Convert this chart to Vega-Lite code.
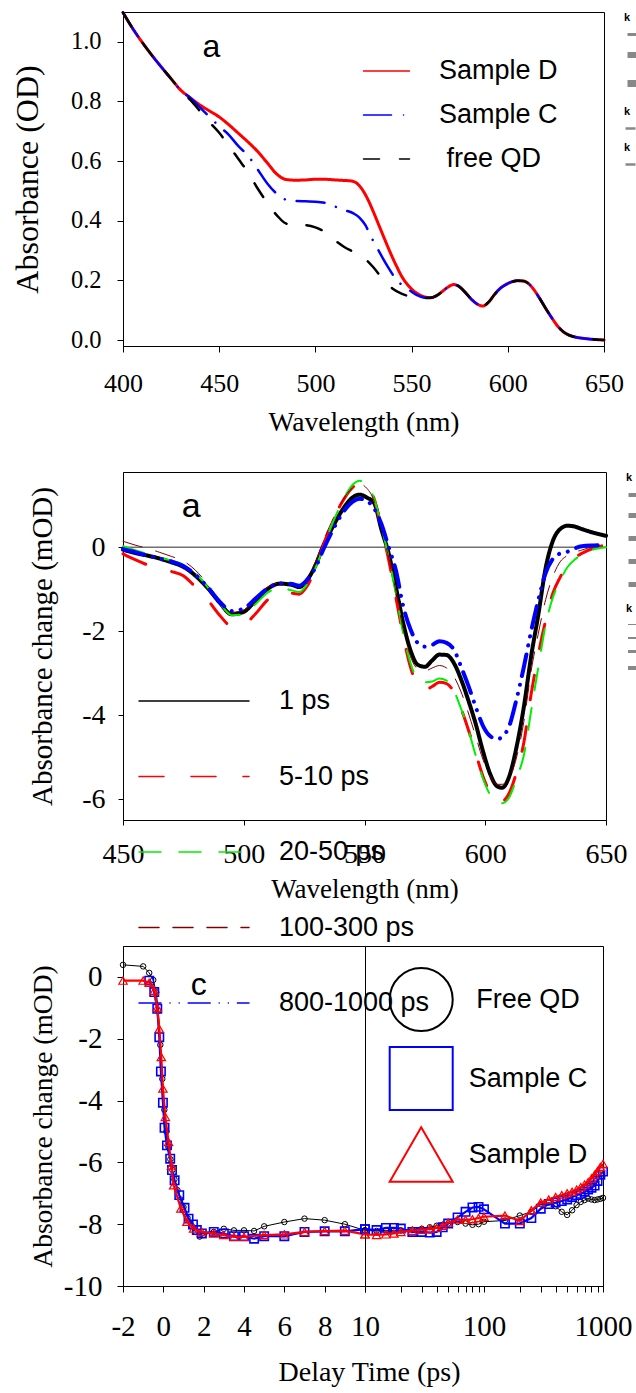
{
"$schema": "https://vega.github.io/schema/vega-lite/v6.json",
"padding": {"left": 10, "top": 10, "right": 0, "bottom": 0},
"background": "white",
"config": {
 "view": {"stroke": "#000000", "strokeWidth": 1},
 "axis": {"grid": false, "domainColor": "#000000", "tickColor": "#000000", "labelColor": "#000000", "titleColor": "#000000", "labelFont": "Liberation Serif", "titleFont": "Liberation Serif", "titleFontWeight": "normal", "labelFlush": false, "labelOverlap": false},
 "legend": {"labelFont": "Liberation Sans", "labelColor": "#000000"}
},
"datasets": {
 "abs": [
  {"k":"Sample D","wl":400,"a":1.098},{"k":"Sample D","wl":405,"a":1.045},{"k":"Sample D","wl":410,"a":0.998},{"k":"Sample D","wl":415,"a":0.955},{"k":"Sample D","wl":420,"a":0.915},{"k":"Sample D","wl":425,"a":0.876},{"k":"Sample D","wl":430,"a":0.838},{"k":"Sample D","wl":435,"a":0.812},{"k":"Sample D","wl":440,"a":0.788},{"k":"Sample D","wl":445,"a":0.768},{"k":"Sample D","wl":450,"a":0.748},{"k":"Sample D","wl":455,"a":0.722},{"k":"Sample D","wl":460,"a":0.693},{"k":"Sample D","wl":465,"a":0.664},{"k":"Sample D","wl":470,"a":0.632},{"k":"Sample D","wl":475,"a":0.594},{"k":"Sample D","wl":480,"a":0.556},{"k":"Sample D","wl":485,"a":0.538},{"k":"Sample D","wl":490,"a":0.536},{"k":"Sample D","wl":495,"a":0.537},{"k":"Sample D","wl":500,"a":0.539},{"k":"Sample D","wl":505,"a":0.539},{"k":"Sample D","wl":510,"a":0.537},{"k":"Sample D","wl":515,"a":0.535},{"k":"Sample D","wl":518,"a":0.534},{"k":"Sample D","wl":521,"a":0.528},{"k":"Sample D","wl":524,"a":0.508},{"k":"Sample D","wl":527,"a":0.475},{"k":"Sample D","wl":530,"a":0.432},{"k":"Sample D","wl":533,"a":0.385},{"k":"Sample D","wl":536,"a":0.338},{"k":"Sample D","wl":539,"a":0.292},{"k":"Sample D","wl":542,"a":0.25},{"k":"Sample D","wl":545,"a":0.212},{"k":"Sample D","wl":548,"a":0.185},{"k":"Sample D","wl":551,"a":0.165},{"k":"Sample D","wl":554,"a":0.152},{"k":"Sample D","wl":557,"a":0.144},{"k":"Sample D","wl":560,"a":0.142},{"k":"Sample D","wl":563,"a":0.149},{"k":"Sample D","wl":566,"a":0.163},{"k":"Sample D","wl":569,"a":0.178},{"k":"Sample D","wl":572,"a":0.186},{"k":"Sample D","wl":575,"a":0.178},{"k":"Sample D","wl":578,"a":0.159},{"k":"Sample D","wl":581,"a":0.137},{"k":"Sample D","wl":584,"a":0.121},{"k":"Sample D","wl":587,"a":0.114},{"k":"Sample D","wl":590,"a":0.127},{"k":"Sample D","wl":593,"a":0.152},{"k":"Sample D","wl":596,"a":0.173},{"k":"Sample D","wl":599,"a":0.186},{"k":"Sample D","wl":602,"a":0.195},{"k":"Sample D","wl":605,"a":0.199},{"k":"Sample D","wl":608,"a":0.198},{"k":"Sample D","wl":611,"a":0.188},{"k":"Sample D","wl":614,"a":0.165},{"k":"Sample D","wl":617,"a":0.135},{"k":"Sample D","wl":620,"a":0.103},{"k":"Sample D","wl":623,"a":0.073},{"k":"Sample D","wl":626,"a":0.046},{"k":"Sample D","wl":629,"a":0.027},{"k":"Sample D","wl":632,"a":0.016},{"k":"Sample D","wl":635,"a":0.01},{"k":"Sample D","wl":640,"a":0.005},{"k":"Sample D","wl":645,"a":0.002},{"k":"Sample D","wl":650,"a":0.0},
  {"k":"Sample C","wl":400,"a":1.098},{"k":"Sample C","wl":405,"a":1.045},{"k":"Sample C","wl":410,"a":0.998},{"k":"Sample C","wl":415,"a":0.955},{"k":"Sample C","wl":420,"a":0.915},{"k":"Sample C","wl":425,"a":0.876},{"k":"Sample C","wl":430,"a":0.838},{"k":"Sample C","wl":435,"a":0.812},{"k":"Sample C","wl":440,"a":0.78},{"k":"Sample C","wl":445,"a":0.748},{"k":"Sample C","wl":450,"a":0.717},{"k":"Sample C","wl":455,"a":0.688},{"k":"Sample C","wl":460,"a":0.65},{"k":"Sample C","wl":465,"a":0.618},{"k":"Sample C","wl":470,"a":0.572},{"k":"Sample C","wl":475,"a":0.525},{"k":"Sample C","wl":480,"a":0.49},{"k":"Sample C","wl":485,"a":0.47},{"k":"Sample C","wl":490,"a":0.466},{"k":"Sample C","wl":495,"a":0.465},{"k":"Sample C","wl":500,"a":0.464},{"k":"Sample C","wl":505,"a":0.46},{"k":"Sample C","wl":510,"a":0.448},{"k":"Sample C","wl":515,"a":0.436},{"k":"Sample C","wl":520,"a":0.424},{"k":"Sample C","wl":523,"a":0.41},{"k":"Sample C","wl":526,"a":0.385},{"k":"Sample C","wl":529,"a":0.345},{"k":"Sample C","wl":532,"a":0.31},{"k":"Sample C","wl":535,"a":0.275},{"k":"Sample C","wl":538,"a":0.242},{"k":"Sample C","wl":541,"a":0.212},{"k":"Sample C","wl":544,"a":0.19},{"k":"Sample C","wl":547,"a":0.176},{"k":"Sample C","wl":550,"a":0.162},{"k":"Sample C","wl":553,"a":0.15},{"k":"Sample C","wl":556,"a":0.143},{"k":"Sample C","wl":560,"a":0.142},{"k":"Sample C","wl":563,"a":0.149},{"k":"Sample C","wl":566,"a":0.163},{"k":"Sample C","wl":569,"a":0.178},{"k":"Sample C","wl":572,"a":0.186},{"k":"Sample C","wl":575,"a":0.178},{"k":"Sample C","wl":578,"a":0.159},{"k":"Sample C","wl":581,"a":0.137},{"k":"Sample C","wl":584,"a":0.121},{"k":"Sample C","wl":587,"a":0.114},{"k":"Sample C","wl":590,"a":0.127},{"k":"Sample C","wl":593,"a":0.152},{"k":"Sample C","wl":596,"a":0.173},{"k":"Sample C","wl":599,"a":0.186},{"k":"Sample C","wl":602,"a":0.195},{"k":"Sample C","wl":605,"a":0.199},{"k":"Sample C","wl":608,"a":0.198},{"k":"Sample C","wl":611,"a":0.188},{"k":"Sample C","wl":614,"a":0.165},{"k":"Sample C","wl":617,"a":0.135},{"k":"Sample C","wl":620,"a":0.103},{"k":"Sample C","wl":623,"a":0.073},{"k":"Sample C","wl":626,"a":0.046},{"k":"Sample C","wl":629,"a":0.027},{"k":"Sample C","wl":632,"a":0.016},{"k":"Sample C","wl":635,"a":0.01},{"k":"Sample C","wl":640,"a":0.005},{"k":"Sample C","wl":645,"a":0.002},{"k":"Sample C","wl":650,"a":0.0},
  {"k":"free QD","wl":400,"a":1.098},{"k":"free QD","wl":405,"a":1.045},{"k":"free QD","wl":410,"a":0.998},{"k":"free QD","wl":415,"a":0.955},{"k":"free QD","wl":420,"a":0.915},{"k":"free QD","wl":425,"a":0.876},{"k":"free QD","wl":430,"a":0.838},{"k":"free QD","wl":435,"a":0.805},{"k":"free QD","wl":440,"a":0.768},{"k":"free QD","wl":445,"a":0.73},{"k":"free QD","wl":450,"a":0.695},{"k":"free QD","wl":455,"a":0.652},{"k":"free QD","wl":460,"a":0.607},{"k":"free QD","wl":465,"a":0.562},{"k":"free QD","wl":470,"a":0.508},{"k":"free QD","wl":475,"a":0.46},{"k":"free QD","wl":480,"a":0.418},{"k":"free QD","wl":485,"a":0.39},{"k":"free QD","wl":490,"a":0.386},{"k":"free QD","wl":495,"a":0.385},{"k":"free QD","wl":500,"a":0.378},{"k":"free QD","wl":505,"a":0.362},{"k":"free QD","wl":510,"a":0.335},{"k":"free QD","wl":515,"a":0.312},{"k":"free QD","wl":520,"a":0.295},{"k":"free QD","wl":525,"a":0.277},{"k":"free QD","wl":530,"a":0.245},{"k":"free QD","wl":535,"a":0.205},{"k":"free QD","wl":540,"a":0.173},{"k":"free QD","wl":545,"a":0.155},{"k":"free QD","wl":550,"a":0.145},{"k":"free QD","wl":555,"a":0.141},{"k":"free QD","wl":560,"a":0.142},{"k":"free QD","wl":563,"a":0.149},{"k":"free QD","wl":566,"a":0.163},{"k":"free QD","wl":569,"a":0.178},{"k":"free QD","wl":572,"a":0.186},{"k":"free QD","wl":575,"a":0.178},{"k":"free QD","wl":578,"a":0.159},{"k":"free QD","wl":581,"a":0.137},{"k":"free QD","wl":584,"a":0.121},{"k":"free QD","wl":587,"a":0.114},{"k":"free QD","wl":590,"a":0.127},{"k":"free QD","wl":593,"a":0.152},{"k":"free QD","wl":596,"a":0.173},{"k":"free QD","wl":599,"a":0.186},{"k":"free QD","wl":602,"a":0.195},{"k":"free QD","wl":605,"a":0.199},{"k":"free QD","wl":608,"a":0.198},{"k":"free QD","wl":611,"a":0.188},{"k":"free QD","wl":614,"a":0.165},{"k":"free QD","wl":617,"a":0.135},{"k":"free QD","wl":620,"a":0.103},{"k":"free QD","wl":623,"a":0.073},{"k":"free QD","wl":626,"a":0.046},{"k":"free QD","wl":629,"a":0.027},{"k":"free QD","wl":632,"a":0.016},{"k":"free QD","wl":635,"a":0.01},{"k":"free QD","wl":640,"a":0.005},{"k":"free QD","wl":645,"a":0.002},{"k":"free QD","wl":650,"a":0.0}
 ],
 "ta": [
  {"k":"1 ps","wl":450,"d":-0.06},{"k":"1 ps","wl":455,"d":-0.14},{"k":"1 ps","wl":460,"d":-0.2},{"k":"1 ps","wl":465,"d":-0.27},{"k":"1 ps","wl":470,"d":-0.36},{"k":"1 ps","wl":475,"d":-0.47},{"k":"1 ps","wl":480,"d":-0.68},{"k":"1 ps","wl":485,"d":-0.97},{"k":"1 ps","wl":490,"d":-1.32},{"k":"1 ps","wl":495,"d":-1.6},{"k":"1 ps","wl":500,"d":-1.54},{"k":"1 ps","wl":505,"d":-1.27},{"k":"1 ps","wl":510,"d":-0.99},{"k":"1 ps","wl":515,"d":-0.87},{"k":"1 ps","wl":520,"d":-0.9},{"k":"1 ps","wl":523,"d":-0.95},{"k":"1 ps","wl":526,"d":-0.8},{"k":"1 ps","wl":530,"d":-0.4},{"k":"1 ps","wl":533,"d":0.04},{"k":"1 ps","wl":537,"d":0.5},{"k":"1 ps","wl":541,"d":0.9},{"k":"1 ps","wl":545,"d":1.18},{"k":"1 ps","wl":548,"d":1.25},{"k":"1 ps","wl":551,"d":1.18},{"k":"1 ps","wl":554,"d":1.05},{"k":"1 ps","wl":557,"d":0.42},{"k":"1 ps","wl":560,"d":-0.15},{"k":"1 ps","wl":563,"d":-0.95},{"k":"1 ps","wl":566,"d":-1.8},{"k":"1 ps","wl":569,"d":-2.45},{"k":"1 ps","wl":572,"d":-2.8},{"k":"1 ps","wl":575,"d":-2.85},{"k":"1 ps","wl":578,"d":-2.7},{"k":"1 ps","wl":581,"d":-2.56},{"k":"1 ps","wl":584,"d":-2.57},{"k":"1 ps","wl":587,"d":-2.76},{"k":"1 ps","wl":590,"d":-3.15},{"k":"1 ps","wl":593,"d":-3.65},{"k":"1 ps","wl":596,"d":-4.2},{"k":"1 ps","wl":599,"d":-4.85},{"k":"1 ps","wl":602,"d":-5.4},{"k":"1 ps","wl":605,"d":-5.7},{"k":"1 ps","wl":607,"d":-5.73},{"k":"1 ps","wl":610,"d":-5.45},{"k":"1 ps","wl":613,"d":-4.75},{"k":"1 ps","wl":616,"d":-3.8},{"k":"1 ps","wl":619,"d":-2.6},{"k":"1 ps","wl":622,"d":-1.6},{"k":"1 ps","wl":625,"d":-0.5},{"k":"1 ps","wl":628,"d":0.15},{"k":"1 ps","wl":631,"d":0.43},{"k":"1 ps","wl":634,"d":0.51},{"k":"1 ps","wl":637,"d":0.49},{"k":"1 ps","wl":640,"d":0.43},{"k":"1 ps","wl":645,"d":0.34},{"k":"1 ps","wl":650,"d":0.27},
  {"k":"5-10 ps","wl":450,"d":-0.16},{"k":"5-10 ps","wl":455,"d":-0.3},{"k":"5-10 ps","wl":460,"d":-0.42},{"k":"5-10 ps","wl":465,"d":-0.52},{"k":"5-10 ps","wl":470,"d":-0.58},{"k":"5-10 ps","wl":475,"d":-0.68},{"k":"5-10 ps","wl":480,"d":-0.95},{"k":"5-10 ps","wl":485,"d":-1.25},{"k":"5-10 ps","wl":490,"d":-1.62},{"k":"5-10 ps","wl":495,"d":-1.88},{"k":"5-10 ps","wl":500,"d":-1.84},{"k":"5-10 ps","wl":505,"d":-1.58},{"k":"5-10 ps","wl":510,"d":-1.25},{"k":"5-10 ps","wl":515,"d":-1.1},{"k":"5-10 ps","wl":520,"d":-1.1},{"k":"5-10 ps","wl":523,"d":-1.12},{"k":"5-10 ps","wl":526,"d":-0.95},{"k":"5-10 ps","wl":530,"d":-0.45},{"k":"5-10 ps","wl":533,"d":0.05},{"k":"5-10 ps","wl":537,"d":0.65},{"k":"5-10 ps","wl":541,"d":1.1},{"k":"5-10 ps","wl":545,"d":1.42},{"k":"5-10 ps","wl":548,"d":1.52},{"k":"5-10 ps","wl":551,"d":1.42},{"k":"5-10 ps","wl":554,"d":1.15},{"k":"5-10 ps","wl":557,"d":0.45},{"k":"5-10 ps","wl":560,"d":-0.3},{"k":"5-10 ps","wl":563,"d":-1.2},{"k":"5-10 ps","wl":566,"d":-2.1},{"k":"5-10 ps","wl":569,"d":-2.85},{"k":"5-10 ps","wl":572,"d":-3.28},{"k":"5-10 ps","wl":575,"d":-3.4},{"k":"5-10 ps","wl":578,"d":-3.32},{"k":"5-10 ps","wl":581,"d":-3.22},{"k":"5-10 ps","wl":584,"d":-3.25},{"k":"5-10 ps","wl":587,"d":-3.45},{"k":"5-10 ps","wl":590,"d":-3.85},{"k":"5-10 ps","wl":593,"d":-4.35},{"k":"5-10 ps","wl":596,"d":-4.9},{"k":"5-10 ps","wl":599,"d":-5.45},{"k":"5-10 ps","wl":602,"d":-5.85},{"k":"5-10 ps","wl":605,"d":-6.05},{"k":"5-10 ps","wl":607,"d":-6.05},{"k":"5-10 ps","wl":610,"d":-5.85},{"k":"5-10 ps","wl":613,"d":-5.35},{"k":"5-10 ps","wl":616,"d":-4.65},{"k":"5-10 ps","wl":619,"d":-3.5},{"k":"5-10 ps","wl":622,"d":-2.55},{"k":"5-10 ps","wl":625,"d":-1.75},{"k":"5-10 ps","wl":628,"d":-1.1},{"k":"5-10 ps","wl":631,"d":-0.72},{"k":"5-10 ps","wl":634,"d":-0.42},{"k":"5-10 ps","wl":637,"d":-0.25},{"k":"5-10 ps","wl":640,"d":-0.15},{"k":"5-10 ps","wl":645,"d":-0.02},{"k":"5-10 ps","wl":650,"d":0.05},
  {"k":"20-50 ps","wl":450,"d":0.02},{"k":"20-50 ps","wl":455,"d":-0.07},{"k":"20-50 ps","wl":460,"d":-0.16},{"k":"20-50 ps","wl":465,"d":-0.25},{"k":"20-50 ps","wl":470,"d":-0.32},{"k":"20-50 ps","wl":475,"d":-0.42},{"k":"20-50 ps","wl":480,"d":-0.62},{"k":"20-50 ps","wl":485,"d":-0.95},{"k":"20-50 ps","wl":490,"d":-1.33},{"k":"20-50 ps","wl":495,"d":-1.62},{"k":"20-50 ps","wl":500,"d":-1.6},{"k":"20-50 ps","wl":505,"d":-1.35},{"k":"20-50 ps","wl":510,"d":-1.08},{"k":"20-50 ps","wl":515,"d":-0.98},{"k":"20-50 ps","wl":520,"d":-1.03},{"k":"20-50 ps","wl":523,"d":-1.07},{"k":"20-50 ps","wl":526,"d":-0.9},{"k":"20-50 ps","wl":530,"d":-0.45},{"k":"20-50 ps","wl":533,"d":0.0},{"k":"20-50 ps","wl":537,"d":0.6},{"k":"20-50 ps","wl":541,"d":1.1},{"k":"20-50 ps","wl":545,"d":1.48},{"k":"20-50 ps","wl":548,"d":1.58},{"k":"20-50 ps","wl":551,"d":1.48},{"k":"20-50 ps","wl":554,"d":1.15},{"k":"20-50 ps","wl":557,"d":0.5},{"k":"20-50 ps","wl":560,"d":-0.25},{"k":"20-50 ps","wl":563,"d":-1.1},{"k":"20-50 ps","wl":566,"d":-2.05},{"k":"20-50 ps","wl":569,"d":-2.75},{"k":"20-50 ps","wl":572,"d":-3.15},{"k":"20-50 ps","wl":575,"d":-3.22},{"k":"20-50 ps","wl":578,"d":-3.2},{"k":"20-50 ps","wl":581,"d":-3.13},{"k":"20-50 ps","wl":584,"d":-3.18},{"k":"20-50 ps","wl":587,"d":-3.42},{"k":"20-50 ps","wl":590,"d":-3.85},{"k":"20-50 ps","wl":593,"d":-4.35},{"k":"20-50 ps","wl":596,"d":-4.95},{"k":"20-50 ps","wl":599,"d":-5.5},{"k":"20-50 ps","wl":602,"d":-5.9},{"k":"20-50 ps","wl":605,"d":-6.08},{"k":"20-50 ps","wl":607,"d":-6.1},{"k":"20-50 ps","wl":610,"d":-5.95},{"k":"20-50 ps","wl":613,"d":-5.5},{"k":"20-50 ps","wl":616,"d":-4.95},{"k":"20-50 ps","wl":619,"d":-3.9},{"k":"20-50 ps","wl":622,"d":-2.85},{"k":"20-50 ps","wl":625,"d":-1.85},{"k":"20-50 ps","wl":628,"d":-1.2},{"k":"20-50 ps","wl":631,"d":-0.8},{"k":"20-50 ps","wl":634,"d":-0.48},{"k":"20-50 ps","wl":637,"d":-0.3},{"k":"20-50 ps","wl":640,"d":-0.18},{"k":"20-50 ps","wl":645,"d":-0.05},{"k":"20-50 ps","wl":650,"d":0.0},
  {"k":"100-300 ps","wl":450,"d":0.14},{"k":"100-300 ps","wl":455,"d":0.05},{"k":"100-300 ps","wl":460,"d":-0.03},{"k":"100-300 ps","wl":465,"d":-0.12},{"k":"100-300 ps","wl":470,"d":-0.22},{"k":"100-300 ps","wl":475,"d":-0.33},{"k":"100-300 ps","wl":480,"d":-0.55},{"k":"100-300 ps","wl":485,"d":-0.88},{"k":"100-300 ps","wl":490,"d":-1.27},{"k":"100-300 ps","wl":495,"d":-1.55},{"k":"100-300 ps","wl":500,"d":-1.5},{"k":"100-300 ps","wl":505,"d":-1.22},{"k":"100-300 ps","wl":510,"d":-0.95},{"k":"100-300 ps","wl":515,"d":-0.85},{"k":"100-300 ps","wl":520,"d":-0.9},{"k":"100-300 ps","wl":523,"d":-0.95},{"k":"100-300 ps","wl":526,"d":-0.76},{"k":"100-300 ps","wl":530,"d":-0.3},{"k":"100-300 ps","wl":533,"d":0.15},{"k":"100-300 ps","wl":537,"d":0.68},{"k":"100-300 ps","wl":541,"d":1.12},{"k":"100-300 ps","wl":545,"d":1.42},{"k":"100-300 ps","wl":548,"d":1.5},{"k":"100-300 ps","wl":551,"d":1.4},{"k":"100-300 ps","wl":554,"d":1.1},{"k":"100-300 ps","wl":557,"d":0.45},{"k":"100-300 ps","wl":560,"d":-0.25},{"k":"100-300 ps","wl":563,"d":-1.05},{"k":"100-300 ps","wl":566,"d":-1.95},{"k":"100-300 ps","wl":569,"d":-2.6},{"k":"100-300 ps","wl":572,"d":-2.9},{"k":"100-300 ps","wl":575,"d":-2.95},{"k":"100-300 ps","wl":578,"d":-2.88},{"k":"100-300 ps","wl":581,"d":-2.82},{"k":"100-300 ps","wl":584,"d":-2.88},{"k":"100-300 ps","wl":587,"d":-3.08},{"k":"100-300 ps","wl":590,"d":-3.45},{"k":"100-300 ps","wl":593,"d":-3.95},{"k":"100-300 ps","wl":596,"d":-4.5},{"k":"100-300 ps","wl":599,"d":-5.05},{"k":"100-300 ps","wl":602,"d":-5.45},{"k":"100-300 ps","wl":605,"d":-5.65},{"k":"100-300 ps","wl":607,"d":-5.65},{"k":"100-300 ps","wl":610,"d":-5.5},{"k":"100-300 ps","wl":613,"d":-5.0},{"k":"100-300 ps","wl":616,"d":-4.15},{"k":"100-300 ps","wl":619,"d":-2.95},{"k":"100-300 ps","wl":622,"d":-2.05},{"k":"100-300 ps","wl":625,"d":-1.25},{"k":"100-300 ps","wl":628,"d":-0.7},{"k":"100-300 ps","wl":631,"d":-0.35},{"k":"100-300 ps","wl":634,"d":-0.2},{"k":"100-300 ps","wl":637,"d":-0.12},{"k":"100-300 ps","wl":640,"d":-0.07},{"k":"100-300 ps","wl":645,"d":0.02},{"k":"100-300 ps","wl":650,"d":0.05},
  {"k":"800-1000 ps","wl":450,"d":-0.05},{"k":"800-1000 ps","wl":455,"d":-0.12},{"k":"800-1000 ps","wl":460,"d":-0.2},{"k":"800-1000 ps","wl":465,"d":-0.27},{"k":"800-1000 ps","wl":470,"d":-0.34},{"k":"800-1000 ps","wl":475,"d":-0.45},{"k":"800-1000 ps","wl":480,"d":-0.66},{"k":"800-1000 ps","wl":485,"d":-0.95},{"k":"800-1000 ps","wl":490,"d":-1.3},{"k":"800-1000 ps","wl":495,"d":-1.52},{"k":"800-1000 ps","wl":500,"d":-1.46},{"k":"800-1000 ps","wl":505,"d":-1.22},{"k":"800-1000 ps","wl":510,"d":-0.98},{"k":"800-1000 ps","wl":515,"d":-0.86},{"k":"800-1000 ps","wl":520,"d":-0.88},{"k":"800-1000 ps","wl":523,"d":-0.92},{"k":"800-1000 ps","wl":526,"d":-0.8},{"k":"800-1000 ps","wl":530,"d":-0.45},{"k":"800-1000 ps","wl":533,"d":-0.05},{"k":"800-1000 ps","wl":537,"d":0.42},{"k":"800-1000 ps","wl":541,"d":0.82},{"k":"800-1000 ps","wl":545,"d":1.08},{"k":"800-1000 ps","wl":548,"d":1.15},{"k":"800-1000 ps","wl":551,"d":1.1},{"k":"800-1000 ps","wl":554,"d":0.92},{"k":"800-1000 ps","wl":557,"d":0.55},{"k":"800-1000 ps","wl":560,"d":0.0},{"k":"800-1000 ps","wl":563,"d":-0.55},{"k":"800-1000 ps","wl":566,"d":-1.4},{"k":"800-1000 ps","wl":569,"d":-1.95},{"k":"800-1000 ps","wl":572,"d":-2.28},{"k":"800-1000 ps","wl":575,"d":-2.37},{"k":"800-1000 ps","wl":578,"d":-2.33},{"k":"800-1000 ps","wl":581,"d":-2.24},{"k":"800-1000 ps","wl":584,"d":-2.28},{"k":"800-1000 ps","wl":587,"d":-2.44},{"k":"800-1000 ps","wl":590,"d":-2.85},{"k":"800-1000 ps","wl":593,"d":-3.3},{"k":"800-1000 ps","wl":596,"d":-3.8},{"k":"800-1000 ps","wl":599,"d":-4.25},{"k":"800-1000 ps","wl":602,"d":-4.5},{"k":"800-1000 ps","wl":605,"d":-4.57},{"k":"800-1000 ps","wl":607,"d":-4.52},{"k":"800-1000 ps","wl":610,"d":-4.25},{"k":"800-1000 ps","wl":613,"d":-3.61},{"k":"800-1000 ps","wl":616,"d":-2.85},{"k":"800-1000 ps","wl":619,"d":-2.0},{"k":"800-1000 ps","wl":622,"d":-1.25},{"k":"800-1000 ps","wl":625,"d":-0.62},{"k":"800-1000 ps","wl":628,"d":-0.28},{"k":"800-1000 ps","wl":631,"d":-0.15},{"k":"800-1000 ps","wl":634,"d":-0.11},{"k":"800-1000 ps","wl":637,"d":-0.03},{"k":"800-1000 ps","wl":640,"d":0.02},{"k":"800-1000 ps","wl":645,"d":0.04},{"k":"800-1000 ps","wl":650,"d":0.05}
 ],
 "kin": [
  {"k":"Free QD","t":-2,"d":0.39},{"k":"Free QD","t":-1,"d":0.34},{"k":"Free QD","t":-0.7,"d":0.13},{"k":"Free QD","t":-0.5,"d":-0.1},{"k":"Free QD","t":-0.35,"d":-0.5},{"k":"Free QD","t":-0.25,"d":-1.1},{"k":"Free QD","t":-0.15,"d":-2.2},{"k":"Free QD","t":-0.05,"d":-3.3},{"k":"Free QD","t":0.05,"d":-4.3},{"k":"Free QD","t":0.15,"d":-5.0},{"k":"Free QD","t":0.25,"d":-5.5},{"k":"Free QD","t":0.35,"d":-5.9},{"k":"Free QD","t":0.45,"d":-6.25},{"k":"Free QD","t":0.55,"d":-6.55},{"k":"Free QD","t":0.7,"d":-6.9},{"k":"Free QD","t":0.85,"d":-7.2},{"k":"Free QD","t":1.0,"d":-7.45},{"k":"Free QD","t":1.2,"d":-7.8},{"k":"Free QD","t":1.4,"d":-8.05},{"k":"Free QD","t":1.6,"d":-8.25},{"k":"Free QD","t":1.8,"d":-8.4},{"k":"Free QD","t":2.0,"d":-8.35},{"k":"Free QD","t":2.5,"d":-8.25},{"k":"Free QD","t":3.0,"d":-8.15},{"k":"Free QD","t":3.5,"d":-8.2},{"k":"Free QD","t":4.0,"d":-8.2},{"k":"Free QD","t":4.5,"d":-8.22},{"k":"Free QD","t":5.0,"d":-8.07},{"k":"Free QD","t":6.0,"d":-7.93},{"k":"Free QD","t":7.0,"d":-7.82},{"k":"Free QD","t":8.0,"d":-7.87},{"k":"Free QD","t":9.0,"d":-8.0},{"k":"Free QD","t":10,"d":-8.2},{"k":"Free QD","t":12.5,"d":-8.22},{"k":"Free QD","t":15,"d":-8.2},{"k":"Free QD","t":17.5,"d":-8.2},{"k":"Free QD","t":20,"d":-8.2},{"k":"Free QD","t":25,"d":-8.18},{"k":"Free QD","t":30,"d":-8.15},{"k":"Free QD","t":35,"d":-8.1},{"k":"Free QD","t":40,"d":-8.05},{"k":"Free QD","t":45,"d":-8.02},{"k":"Free QD","t":50,"d":-7.98},{"k":"Free QD","t":60,"d":-7.93},{"k":"Free QD","t":70,"d":-7.98},{"k":"Free QD","t":80,"d":-8.02},{"k":"Free QD","t":90,"d":-8.0},{"k":"Free QD","t":100,"d":-7.92},{"k":"Free QD","t":150,"d":-7.88},{"k":"Free QD","t":200,"d":-7.72},{"k":"Free QD","t":250,"d":-7.6},{"k":"Free QD","t":300,"d":-7.35},{"k":"Free QD","t":350,"d":-7.3},{"k":"Free QD","t":400,"d":-7.42},{"k":"Free QD","t":450,"d":-7.6},{"k":"Free QD","t":500,"d":-7.7},{"k":"Free QD","t":550,"d":-7.55},{"k":"Free QD","t":600,"d":-7.38},{"k":"Free QD","t":650,"d":-7.28},{"k":"Free QD","t":700,"d":-7.22},{"k":"Free QD","t":750,"d":-7.17},{"k":"Free QD","t":800,"d":-7.2},{"k":"Free QD","t":850,"d":-7.22},{"k":"Free QD","t":900,"d":-7.2},{"k":"Free QD","t":950,"d":-7.18},{"k":"Free QD","t":1000,"d":-7.15},
  {"k":"Sample C","t":-0.7,"d":-0.12},{"k":"Sample C","t":-0.45,"d":-0.49},{"k":"Sample C","t":-0.3,"d":-1.03},{"k":"Sample C","t":-0.2,"d":-1.95},{"k":"Sample C","t":-0.12,"d":-3.06},{"k":"Sample C","t":-0.02,"d":-4.07},{"k":"Sample C","t":0.06,"d":-4.88},{"k":"Sample C","t":0.18,"d":-5.45},{"k":"Sample C","t":0.34,"d":-5.88},{"k":"Sample C","t":0.43,"d":-6.25},{"k":"Sample C","t":0.56,"d":-6.58},{"k":"Sample C","t":0.79,"d":-7.06},{"k":"Sample C","t":1.05,"d":-7.47},{"k":"Sample C","t":1.25,"d":-7.82},{"k":"Sample C","t":1.47,"d":-8.01},{"k":"Sample C","t":1.66,"d":-8.19},{"k":"Sample C","t":1.91,"d":-8.3},{"k":"Sample C","t":2.5,"d":-8.25},{"k":"Sample C","t":3.0,"d":-8.3},{"k":"Sample C","t":3.5,"d":-8.39},{"k":"Sample C","t":4.0,"d":-8.39},{"k":"Sample C","t":4.5,"d":-8.47},{"k":"Sample C","t":5.0,"d":-8.39},{"k":"Sample C","t":6.0,"d":-8.39},{"k":"Sample C","t":7.0,"d":-8.25},{"k":"Sample C","t":8.0,"d":-8.23},{"k":"Sample C","t":9.0,"d":-8.23},{"k":"Sample C","t":10,"d":-8.16},{"k":"Sample C","t":12.5,"d":-8.19},{"k":"Sample C","t":15,"d":-8.12},{"k":"Sample C","t":17.5,"d":-8.12},{"k":"Sample C","t":20,"d":-8.14},{"k":"Sample C","t":25,"d":-8.25},{"k":"Sample C","t":30,"d":-8.25},{"k":"Sample C","t":35,"d":-8.27},{"k":"Sample C","t":40,"d":-8.25},{"k":"Sample C","t":45,"d":-8.1},{"k":"Sample C","t":50,"d":-7.98},{"k":"Sample C","t":60,"d":-7.78},{"k":"Sample C","t":70,"d":-7.6},{"k":"Sample C","t":80,"d":-7.46},{"k":"Sample C","t":90,"d":-7.44},{"k":"Sample C","t":100,"d":-7.52},{"k":"Sample C","t":150,"d":-7.98},{"k":"Sample C","t":200,"d":-7.98},{"k":"Sample C","t":250,"d":-7.8},{"k":"Sample C","t":300,"d":-7.5},{"k":"Sample C","t":350,"d":-7.35},{"k":"Sample C","t":400,"d":-7.3},{"k":"Sample C","t":450,"d":-7.25},{"k":"Sample C","t":500,"d":-7.2},{"k":"Sample C","t":550,"d":-7.12},{"k":"Sample C","t":600,"d":-7.06},{"k":"Sample C","t":650,"d":-7.02},{"k":"Sample C","t":700,"d":-6.95},{"k":"Sample C","t":750,"d":-6.88},{"k":"Sample C","t":800,"d":-6.82},{"k":"Sample C","t":850,"d":-6.75},{"k":"Sample C","t":900,"d":-6.6},{"k":"Sample C","t":950,"d":-6.4},{"k":"Sample C","t":1000,"d":-6.3},
  {"k":"Sample D","t":-2,"d":-0.12},{"k":"Sample D","t":-1,"d":-0.12},{"k":"Sample D","t":-0.7,"d":-0.19},{"k":"Sample D","t":-0.45,"d":-0.45},{"k":"Sample D","t":-0.3,"d":-1.0},{"k":"Sample D","t":-0.2,"d":-1.68},{"k":"Sample D","t":-0.1,"d":-2.59},{"k":"Sample D","t":-0.02,"d":-3.61},{"k":"Sample D","t":0.1,"d":-4.53},{"k":"Sample D","t":0.26,"d":-5.34},{"k":"Sample D","t":0.4,"d":-6.1},{"k":"Sample D","t":0.51,"d":-6.74},{"k":"Sample D","t":0.87,"d":-7.49},{"k":"Sample D","t":1.17,"d":-7.92},{"k":"Sample D","t":1.5,"d":-8.14},{"k":"Sample D","t":1.91,"d":-8.25},{"k":"Sample D","t":2.5,"d":-8.3},{"k":"Sample D","t":3.0,"d":-8.35},{"k":"Sample D","t":3.5,"d":-8.41},{"k":"Sample D","t":4.0,"d":-8.41},{"k":"Sample D","t":5.0,"d":-8.35},{"k":"Sample D","t":6.0,"d":-8.33},{"k":"Sample D","t":7.0,"d":-8.25},{"k":"Sample D","t":8.0,"d":-8.22},{"k":"Sample D","t":9.0,"d":-8.21},{"k":"Sample D","t":10,"d":-8.33},{"k":"Sample D","t":12.5,"d":-8.35},{"k":"Sample D","t":15,"d":-8.33},{"k":"Sample D","t":17.5,"d":-8.3},{"k":"Sample D","t":20,"d":-8.25},{"k":"Sample D","t":25,"d":-8.21},{"k":"Sample D","t":30,"d":-8.18},{"k":"Sample D","t":35,"d":-8.15},{"k":"Sample D","t":40,"d":-8.12},{"k":"Sample D","t":45,"d":-8.05},{"k":"Sample D","t":50,"d":-7.95},{"k":"Sample D","t":60,"d":-7.85},{"k":"Sample D","t":70,"d":-7.86},{"k":"Sample D","t":80,"d":-7.84},{"k":"Sample D","t":90,"d":-7.8},{"k":"Sample D","t":100,"d":-7.76},{"k":"Sample D","t":150,"d":-7.72},{"k":"Sample D","t":200,"d":-7.9},{"k":"Sample D","t":250,"d":-7.55},{"k":"Sample D","t":300,"d":-7.3},{"k":"Sample D","t":350,"d":-7.2},{"k":"Sample D","t":400,"d":-7.12},{"k":"Sample D","t":450,"d":-7.06},{"k":"Sample D","t":500,"d":-7.0},{"k":"Sample D","t":550,"d":-6.95},{"k":"Sample D","t":600,"d":-6.88},{"k":"Sample D","t":650,"d":-6.8},{"k":"Sample D","t":700,"d":-6.72},{"k":"Sample D","t":750,"d":-6.64},{"k":"Sample D","t":800,"d":-6.52},{"k":"Sample D","t":850,"d":-6.4},{"k":"Sample D","t":900,"d":-6.28},{"k":"Sample D","t":950,"d":-6.15},{"k":"Sample D","t":1000,"d":-6.05}
 ]
},
"spacing": 126,
"bounds": "flush",
"resolve": {"scale": {"color": "independent", "strokeDash": "independent", "strokeWidth": "independent", "shape": "independent"}},
"vconcat": [
 {
  "width": 481, "height": 334,
  "layer": [
   {"data": {"name": "abs"}, "transform": [{"filter": "datum.k == 'Sample D'"}],
    "mark": {"type": "line", "interpolate": "monotone", "strokeCap": "round", "strokeJoin": "round"},
    "encoding": {
     "x": {"field": "wl", "type": "quantitative", "scale": {"domain": [400, 650], "nice": false, "zero": false}, "axis": {"values": [400, 450, 500, 550, 600, 650], "title": "Wavelength (nm)", "labelFontSize": 26, "titleFontSize": 27.5, "tickSize": 6, "labelPadding": 18, "titlePadding": 12}},
     "y": {"field": "a", "type": "quantitative", "scale": {"domain": [-0.02, 1.1], "nice": false, "zero": false}, "axis": {"values": [0, 0.2, 0.4, 0.6, 0.8, 1.0], "format": ".1f", "title": "Absorbance (OD)", "labelFontSize": 24.5, "titleFontSize": 32, "tickSize": 6, "labelPadding": 16, "titlePadding": 26}},
     "color": {"field": "k", "type": "nominal", "scale": {"domain": ["Sample D", "Sample C", "free QD"], "range": ["#ff0000", "#0000ff", "#000000"]},
      "legend": {"orient": "none", "legendX": 239.5, "legendY": 35, "title": null, "symbolType": "stroke", "symbolSize": 2116, "labelFontSize": 27, "labelFont": "Liberation Sans", "labelOffset": 28.5, "rowPadding": 7, "labelExpr": "datum.value == 'free QD' ? '\u200b\u00a0free QD' : datum.label",
       "encode": {"symbols": {"update": {"strokeCap": {"value": "round"}}}}}},
     "strokeDash": {"field": "k", "type": "nominal", "scale": {"domain": ["Sample D", "Sample C", "free QD"], "range": [[1, 0], [28, 12, 0.1, 12], [16, 20]]}},
     "strokeWidth": {"field": "k", "type": "nominal", "scale": {"type": "ordinal", "domain": ["Sample D", "Sample C", "free QD"], "range": [3, 6, 7]}}
    }},
   {"data": {"name": "abs"}, "transform": [{"filter": "datum.k == 'Sample C'"}],
    "mark": {"type": "line", "interpolate": "monotone", "strokeCap": "round", "strokeJoin": "round"},
    "encoding": {
     "x": {"field": "wl", "type": "quantitative"},
     "y": {"field": "a", "type": "quantitative"},
     "color": {"field": "k", "type": "nominal"},
     "strokeDash": {"field": "k", "type": "nominal"},
     "strokeWidth": {"field": "k", "type": "nominal"}
    }},
   {"data": {"name": "abs"}, "transform": [{"filter": "datum.k == 'free QD'"}],
    "mark": {"type": "line", "interpolate": "monotone", "strokeCap": "round", "strokeJoin": "round"},
    "encoding": {
     "x": {"field": "wl", "type": "quantitative"},
     "y": {"field": "a", "type": "quantitative"},
     "color": {"field": "k", "type": "nominal"},
     "strokeDash": {"field": "k", "type": "nominal"},
     "strokeWidth": {"field": "k", "type": "nominal"}
    }},
   {"data": {"values": [{"lab": "a"}]},
    "mark": {"type": "text", "font": "Liberation Sans", "fontSize": 32, "align": "center", "baseline": "alphabetic", "color": "#000000"},
    "encoding": {"x": {"datum": 446}, "y": {"datum": 0.949}, "text": {"field": "lab"}}}
  ]
 },
 {
  "width": 483, "height": 348,
  "layer": [
   {"data": {"values": [{"z": 0}]},
    "mark": {"type": "rule", "color": "#707070", "strokeWidth": 1.5},
    "encoding": {"y": {"field": "z", "type": "quantitative", "scale": {"domain": [-6.5, 1.79], "nice": false, "zero": false}, "axis": {"values": [-6, -4, -2, 0], "labelExpr": "toString(datum.value)", "title": "Absorbance change (mOD)", "labelFontSize": 28, "titleFontSize": 29, "tickSize": 5, "labelPadding": 13, "titlePadding": 24}}}},
   {"data": {"name": "ta"}, "transform": [{"filter": "datum.k == '1 ps'"}],
    "mark": {"type": "line", "interpolate": "monotone", "strokeCap": "round", "strokeJoin": "round"},
    "encoding": {
     "x": {"field": "wl", "type": "quantitative", "scale": {"domain": [450, 650], "nice": false, "zero": false}, "axis": {"values": [450, 500, 550, 600, 650], "title": "Wavelength (nm)", "labelFontSize": 28, "titleFontSize": 27, "tickSize": 5, "labelPadding": 15, "titlePadding": 8}},
     "y": {"field": "d", "type": "quantitative"},
     "color": {"field": "k", "type": "nominal", "scale": {"domain": ["1 ps", "5-10 ps", "20-50 ps", "100-300 ps", "800-1000 ps"], "range": ["#000000", "#ff0000", "#00ee00", "#7f0000", "#0000ff"]},
      "legend": {"orient": "none", "legendX": 15, "legendY": 173, "title": null, "symbolType": "stroke", "symbolSize": 12100, "labelFontSize": 27, "labelFont": "Liberation Sans", "labelOffset": 29, "rowPadding": 6.5,
       "encode": {"symbols": {"update": {"strokeCap": {"value": "round"}}}}}},
     "strokeDash": {"field": "k", "type": "nominal", "scale": {"domain": ["1 ps", "5-10 ps", "20-50 ps", "100-300 ps", "800-1000 ps"], "range": [[1, 0], [25, 27], [22, 18], [20, 14], [22, 9, 0.1, 9, 0.1, 9]]}},
     "strokeWidth": {"field": "k", "type": "nominal", "scale": {"type": "ordinal", "domain": ["1 ps", "5-10 ps", "20-50 ps", "100-300 ps", "800-1000 ps"], "range": [4, 5, 5, 5, 5]}}
    }},
   {"data": {"name": "ta"}, "transform": [{"filter": "datum.k != '1 ps'"}],
    "mark": {"type": "line", "interpolate": "monotone", "strokeCap": "round", "strokeJoin": "round"},
    "encoding": {
     "x": {"field": "wl", "type": "quantitative"},
     "y": {"field": "d", "type": "quantitative"},
     "color": {"field": "k", "type": "nominal"},
     "strokeDash": {"field": "k", "type": "nominal"},
     "strokeWidth": {"field": "k", "type": "nominal"}
    }},
   {"data": {"values": [{"lab": "a"}]},
    "mark": {"type": "text", "font": "Liberation Sans", "fontSize": 34, "align": "center", "baseline": "alphabetic", "color": "#000000"},
    "encoding": {"x": {"datum": 478.2}, "y": {"datum": 0.714}, "text": {"field": "lab"}}}
  ]
 },
 {
  "hconcat": [
   {
    "width": 242, "height": 340,
    "layer": [
     {"data": {"name": "kin"}, "transform": [{"filter": "datum.k == 'Free QD' && datum.t <= 10"}],
      "mark": {"type": "line", "color": "#000000", "strokeWidth": 1},
      "encoding": {
       "x": {"field": "t", "type": "quantitative", "scale": {"domain": [-2, 10], "nice": false, "zero": false}, "axis": {"values": [-2, 0, 2, 4, 6, 8, 10], "labelExpr": "toString(datum.value)", "title": "Delay Time (ps)", "titleX": 246, "titleAlign": "center", "labelFontSize": 29, "titleFontSize": 28, "tickSize": 6, "labelPadding": 20, "titlePadding": 17}},
       "y": {"field": "d", "type": "quantitative", "scale": {"domain": [-10, 1], "nice": false, "zero": false}, "axis": {"values": [0, -2, -4, -6, -8, -10], "labelExpr": "toString(datum.value)", "title": "Absorbance change (mOD)", "labelFontSize": 29, "titleFontSize": 27.5, "tickSize": 6, "labelPadding": 15, "titlePadding": 6}}
      }},
     {"data": {"name": "kin"}, "transform": [{"filter": "datum.k == 'Free QD' && datum.t <= 10"}],
      "mark": {"type": "point", "shape": "circle", "filled": false, "size": 30, "strokeWidth": 1, "color": "#000000", "opacity": 1},
      "encoding": {"x": {"field": "t", "type": "quantitative"}, "y": {"field": "d", "type": "quantitative"}}},
     {"data": {"name": "kin"}, "transform": [{"filter": "datum.k == 'Sample C' && datum.t <= 10"}],
      "mark": {"type": "line", "color": "#0000ff", "strokeWidth": 2.2},
      "encoding": {"x": {"field": "t", "type": "quantitative"}, "y": {"field": "d", "type": "quantitative"}}},
     {"data": {"name": "kin"}, "transform": [{"filter": "datum.k == 'Sample C' && datum.t <= 10"}],
      "mark": {"type": "point", "shape": "square", "filled": false, "size": 70, "strokeWidth": 1.6, "color": "#0000ff", "opacity": 1},
      "encoding": {"x": {"field": "t", "type": "quantitative"}, "y": {"field": "d", "type": "quantitative"}}},
     {"data": {"name": "kin"}, "transform": [{"filter": "datum.k == 'Sample D' && datum.t <= 10"}],
      "mark": {"type": "line", "color": "#ff0000", "strokeWidth": 2.2},
      "encoding": {"x": {"field": "t", "type": "quantitative"}, "y": {"field": "d", "type": "quantitative"}}},
     {"data": {"name": "kin"}, "transform": [{"filter": "datum.k == 'Sample D' && datum.t <= 10"}],
      "mark": {"type": "point", "shape": "triangle-up", "filled": false, "size": 70, "strokeWidth": 1.2, "color": "#ff0000", "opacity": 1},
      "encoding": {"x": {"field": "t", "type": "quantitative"}, "y": {"field": "d", "type": "quantitative"}}},
     {"data": {"values": [{"lab": "c"}]},
      "mark": {"type": "text", "font": "Liberation Sans", "fontSize": 32, "align": "center", "baseline": "alphabetic", "color": "#000000"},
      "encoding": {"x": {"datum": 1.75}, "y": {"datum": -0.58}, "text": {"field": "lab"}}}
    ]
   },
   {
    "width": 238, "height": 340,
    "layer": [
     {"data": {"name": "kin"}, "transform": [{"filter": "datum.k == 'Free QD' && datum.t >= 10"}],
      "mark": {"type": "line", "strokeWidth": 1},
      "encoding": {
       "x": {"field": "t", "type": "quantitative", "scale": {"type": "log", "domain": [10, 1000], "nice": false}, "axis": {"values": [10, 20, 30, 40, 50, 60, 70, 80, 90, 100, 200, 300, 400, 500, 600, 700, 800, 900, 1000], "labelExpr": "datum.value == 100 ? '100' : datum.value == 1000 ? '1000' : ''", "title": null, "labelFontSize": 29, "tickSize": 6, "labelPadding": 20}},
       "y": {"field": "d", "type": "quantitative", "scale": {"domain": [-10, 1], "nice": false, "zero": false}, "axis": null},
       "color": {"field": "k", "type": "nominal", "scale": {"domain": ["Free QD", "Sample C", "Sample D"], "range": ["#000000", "#0000ff", "#ff0000"]},
        "legend": {"orient": "none", "legendX": 23.7, "legendY": 21, "title": null, "symbolSize": 3969, "symbolStrokeWidth": 2, "labelFontSize": 27, "labelFont": "Liberation Sans", "labelOffset": 15, "rowPadding": 8,
         "labelExpr": "datum.value == 'Free QD' ? '\u200b\u00a0Free QD' : datum.label",
         "encode": {"symbols": {"update": {
          "shape": {"value": {"expr": "datum.value == 'Free QD' ? 'M-1,0H-0.1M0.1,0H1M-0.1,0A0.1,0.1,0,1,1,0.1,0A0.1,0.1,0,1,1,-0.1,0Z' : datum.value == 'Sample C' ? 'M-1,0H-0.135M0.135,0H1M-0.135,-0.135H0.135V0.135H-0.135Z' : 'M-1,0H-0.085M0.085,0H1M0,-0.16L0.15,0.1H-0.15Z'"}},
          "size": {"value": 3969},
          "strokeWidth": {"value": 2},
          "fill": {"value": "transparent"},
          "stroke": {"value": {"expr": "datum.value == 'Free QD' ? '#555555' : datum.value == 'Sample C' ? '#0000ff' : '#ff0000'"}},
          "opacity": {"value": 1}
         }}}}}
      }},
     {"data": {"name": "kin"}, "transform": [{"filter": "datum.k == 'Free QD' && datum.t >= 10"}],
      "mark": {"type": "point", "filled": false, "size": 30, "strokeWidth": 1, "opacity": 1},
      "encoding": {"x": {"field": "t", "type": "quantitative"}, "y": {"field": "d", "type": "quantitative"},
       "color": {"field": "k", "type": "nominal"},
       "shape": {"field": "k", "type": "nominal", "scale": {"domain": ["Free QD", "Sample C", "Sample D"], "range": ["circle", "square", "triangle-up"]}}}},
     {"data": {"name": "kin"}, "transform": [{"filter": "datum.k == 'Sample C' && datum.t >= 10"}],
      "mark": {"type": "line", "strokeWidth": 2.2},
      "encoding": {"x": {"field": "t", "type": "quantitative"}, "y": {"field": "d", "type": "quantitative"}, "color": {"field": "k", "type": "nominal"}}},
     {"data": {"name": "kin"}, "transform": [{"filter": "datum.k == 'Sample C' && datum.t >= 10"}],
      "mark": {"type": "point", "filled": false, "size": 70, "strokeWidth": 1.6, "opacity": 1},
      "encoding": {"x": {"field": "t", "type": "quantitative"}, "y": {"field": "d", "type": "quantitative"}, "color": {"field": "k", "type": "nominal"}, "shape": {"field": "k", "type": "nominal"}}},
     {"data": {"name": "kin"}, "transform": [{"filter": "datum.k == 'Sample D' && datum.t >= 10"}],
      "mark": {"type": "line", "strokeWidth": 2.2},
      "encoding": {"x": {"field": "t", "type": "quantitative"}, "y": {"field": "d", "type": "quantitative"}, "color": {"field": "k", "type": "nominal"}}},
     {"data": {"name": "kin"}, "transform": [{"filter": "datum.k == 'Sample D' && datum.t >= 10"}],
      "mark": {"type": "point", "filled": false, "size": 70, "strokeWidth": 1.2, "opacity": 1},
      "encoding": {"x": {"field": "t", "type": "quantitative"}, "y": {"field": "d", "type": "quantitative"}, "color": {"field": "k", "type": "nominal"}, "shape": {"field": "k", "type": "nominal"}}}
    ]
   }
  ],
  "spacing": 0,
  "bounds": "flush",
  "resolve": {"scale": {"x": "independent", "y": "independent", "color": "independent", "shape": "independent"}}
 }
]
}
